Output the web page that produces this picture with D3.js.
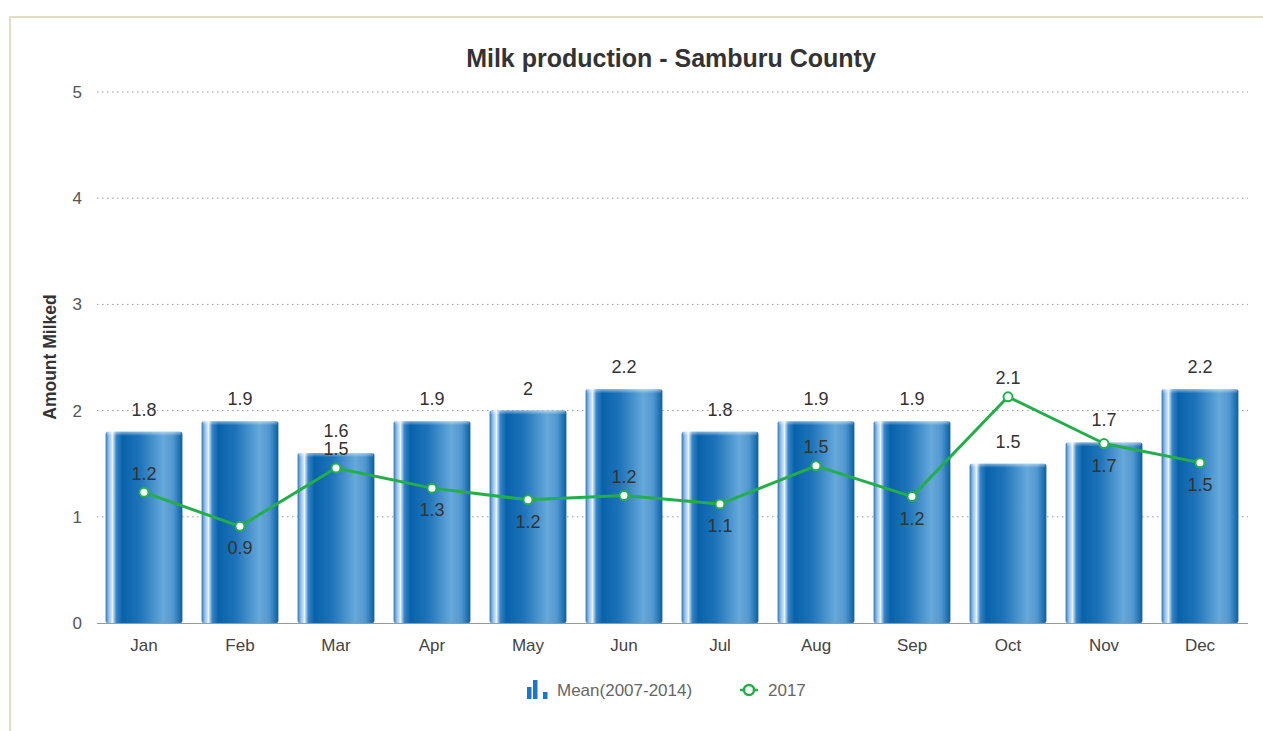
<!DOCTYPE html>
<html>
<head>
<meta charset="utf-8">
<script src="https://cdn.jsdelivr.net/npm/d3@7"></script>
<style>
  html, body { margin: 0; padding: 0; background: #fff; }
  svg { display: block; font-family: "Liberation Sans", Arial, sans-serif; }
</style>
</head>
<body>
<svg id="chart" width="1263" height="731"></svg>
<script>
const months = ["Jan","Feb","Mar","Apr","May","Jun","Jul","Aug","Sep","Oct","Nov","Dec"];
const meanValues = [1.8, 1.9, 1.6, 1.9, 2.0, 2.2, 1.8, 1.9, 1.9, 1.5, 1.7, 2.2];
const values2017 = [1.23, 0.91, 1.46, 1.27, 1.16, 1.2, 1.12, 1.48, 1.19, 2.13, 1.69, 1.51];
const yTicks = [0, 1, 2, 3, 4, 5];
const titleText = "Milk production - Samburu County";
const yAxisTitle = "Amount Milked";
const seriesNames = ["Mean(2007-2014)", "2017"];

(function () {
const svg = d3.select("#chart");
const pLeft = 96, pRight = 1248, pTop = 92, pBottom = 623;

// border
svg.append("path").attr("d", "M10,731 L10,17 L1263,17")
  .attr("fill", "none").attr("stroke", "#e2dcc4").attr("stroke-width", 2);

const x = d3.scaleBand().domain(months).range([pLeft, pRight]).paddingInner(0.2).paddingOuter(0.1);
const y = d3.scaleLinear().domain([0, 5]).range([pBottom, pTop]);

// gradient
const defs = svg.append("defs");
const g = defs.append("linearGradient").attr("id", "barGrad").attr("x1", "0%").attr("x2", "100%");
[[0, "#2f74b8"], [0.04, "#8fbde6"], [0.09, "#e6f1fb"], [0.14, "#3584c6"], [0.22, "#0862ab"],
 [0.45, "#1f74ba"], [0.75, "#66a9da"], [0.88, "#5197d0"], [1, "#0a5fa8"]]
  .forEach(([o, c]) => g.append("stop").attr("offset", o).attr("stop-color", c));
const gTop = defs.append("linearGradient").attr("id", "topGrad").attr("x1", "0%").attr("x2", "0%").attr("y1", "0%").attr("y2", "100%");
gTop.append("stop").attr("offset", 0).attr("stop-color", "#ffffff").attr("stop-opacity", 0.5);
gTop.append("stop").attr("offset", 1).attr("stop-color", "#ffffff").attr("stop-opacity", 0);

// gridlines
svg.append("g").selectAll("line").data(yTicks.filter(d => d > 0)).join("line")
  .attr("x1", pLeft + 1).attr("x2", pRight).attr("y1", d => y(d)).attr("y2", d => y(d))
  .attr("stroke", "#9a9a9a").attr("stroke-width", 1).attr("stroke-dasharray", "1.5,3.5");

// y tick labels
svg.append("g").selectAll("text").data(yTicks).join("text")
  .attr("x", 82).attr("y", d => y(d) + 6).attr("text-anchor", "end")
  .attr("font-size", 17).attr("fill", "#555").text(d => d);

// y axis title
svg.append("text").attr("transform", `translate(56,357) rotate(-90)`)
  .attr("text-anchor", "middle").attr("font-size", 17.5).attr("font-weight", "bold")
  .attr("fill", "#333").text(yAxisTitle);

// bars
const bars = svg.append("g");
bars.selectAll("rect.bar").data(meanValues).join("rect").attr("class", "bar")
  .attr("x", (d, i) => x(months[i])).attr("width", x.bandwidth())
  .attr("y", d => y(d)).attr("height", d => pBottom - y(d))
  .attr("rx", 2).attr("fill", "url(#barGrad)");
bars.selectAll("rect.cap").data(meanValues).join("rect").attr("class", "cap")
  .attr("x", (d, i) => x(months[i]) + 1).attr("width", x.bandwidth() - 2)
  .attr("y", d => y(d)).attr("height", 4).attr("fill", "url(#topGrad)");

// x axis
svg.append("line").attr("x1", pLeft + 1).attr("x2", pRight).attr("y1", pBottom + 0.5).attr("y2", pBottom + 0.5)
  .attr("stroke", "#999").attr("stroke-width", 1);
svg.append("g").selectAll("text").data(months).join("text")
  .attr("x", d => x(d) + x.bandwidth() / 2).attr("y", 651).attr("text-anchor", "middle")
  .attr("font-size", 17).attr("fill", "#444").text(d => d);

// bar labels
svg.append("g").selectAll("text").data(meanValues).join("text")
  .attr("x", (d, i) => x(months[i]) + x.bandwidth() / 2).attr("y", d => y(d) - 16)
  .attr("text-anchor", "middle").attr("font-size", 18).attr("fill", "#333")
  .text(d => d3.format(".1f")(d).replace(/\.0$/, ""));

// line
const cx = (d, i) => x(months[i]) + x.bandwidth() / 2;
const line = d3.line().x((d, i) => cx(d, i)).y(d => y(d));
svg.append("path").datum(values2017).attr("d", line)
  .attr("fill", "none").attr("stroke", "#23ae4b").attr("stroke-width", 3).attr("stroke-linejoin", "round");
svg.append("g").selectAll("circle").data(values2017).join("circle")
  .attr("cx", cx).attr("cy", d => y(d)).attr("r", 4.5)
  .attr("fill", "#fff").attr("stroke", "#23ae4b").attr("stroke-width", 2);

// line labels: above on local peaks, below otherwise
function above(i) {
  const n = [];
  if (i > 0) n.push(values2017[i - 1]);
  if (i < values2017.length - 1) n.push(values2017[i + 1]);
  return values2017[i] > d3.mean(n);
}
svg.append("g").selectAll("text").data(values2017).join("text")
  .attr("x", cx).attr("y", (d, i) => above(i) ? y(d) - 12.5 : y(d) + 28)
  .attr("text-anchor", "middle").attr("font-size", 18).attr("fill", "#333")
  .text(d => d3.format(".1f")(d));

// title
svg.append("text").attr("x", 671).attr("y", 67).attr("text-anchor", "middle")
  .attr("font-size", 25).attr("font-weight", "bold").attr("fill", "#333").text(titleText);

// legend
const lg = svg.append("g");
[[0, 12], [6, 19], [16, 7]].forEach(([dx, h]) => {
  lg.append("rect").attr("x", 527 + dx).attr("y", 699 - h).attr("width", 4.5).attr("height", h).attr("fill", "#1a78c8");
});
lg.append("text").attr("x", 557).attr("y", 696).attr("font-size", 17).attr("fill", "#666").text(seriesNames[0]);
lg.append("line").attr("x1", 740).attr("x2", 758).attr("y1", 690).attr("y2", 690).attr("stroke", "#23ae4b").attr("stroke-width", 2.5);
lg.append("circle").attr("cx", 749).attr("cy", 690).attr("r", 5).attr("fill", "#fff").attr("stroke", "#23ae4b").attr("stroke-width", 2.5);
lg.append("text").attr("x", 768).attr("y", 696).attr("font-size", 17).attr("fill", "#666").text(seriesNames[1]);
})();
</script>
</body>
</html>
